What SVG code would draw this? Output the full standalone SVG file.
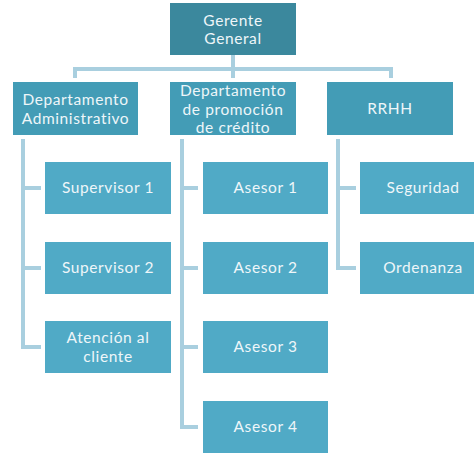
<svg xmlns="http://www.w3.org/2000/svg" width="474" height="454" viewBox="0 0 474 454">
<style>
.top{fill:#3b889d}
.dept{fill:#439cb6}
.box{fill:#50aac6}
text{font-family:Lato,"Open Sans",sans-serif;font-size:15.5px;letter-spacing:0.6px;fill:#eef6f9;text-anchor:middle}
.c{fill:none;stroke:#a9cfdf;stroke-width:4}
</style>
<rect width="474" height="454" fill="#fff"/>
<g id="connectors">
<path class="c" d="M233 55V78M75 78V69H391V78"/>
<path class="c" d="M23 139V347H41M23 188H41M23 268H41"/>
<path class="c" d="M182 139V427H198M182 188H198M182 268H198M182 347H198"/>
<path class="c" d="M338 139V268H356M338 188H356"/>
</g>
<g id="gerente"><rect class="top" x="170" y="3" width="126" height="52"/><text x="233" y="25.5">Gerente</text><text x="233" y="44">General</text></g>
<g id="dept-admin"><rect class="dept" x="13" y="82" width="125" height="53"/><text x="75.5" y="105">Departamento</text><text x="75.5" y="123.5">Administrativo</text></g>
<g id="dept-promo"><rect class="dept" x="170" y="82" width="126" height="53"/><text x="233" y="96">Departamento</text><text x="233" y="114.5">de promoción</text><text x="233" y="133">de crédito</text></g>
<g id="rrhh"><rect class="dept" x="327" y="82" width="126" height="53"/><text x="390" y="114">RRHH</text></g>
<g id="sup1"><rect class="box" x="45" y="162" width="126" height="52"/><text x="108" y="193">Supervisor 1</text></g>
<g id="sup2"><rect class="box" x="45" y="242" width="126" height="52"/><text x="108" y="273">Supervisor 2</text></g>
<g id="atencion"><rect class="box" x="45" y="321" width="126" height="52"/><text x="108" y="343">Atención al</text><text x="108" y="361.5">cliente</text></g>
<g id="ases1"><rect class="box" x="203" y="162" width="125" height="52"/><text x="265.5" y="193">Asesor 1</text></g>
<g id="ases2"><rect class="box" x="203" y="242" width="125" height="52"/><text x="265.5" y="273">Asesor 2</text></g>
<g id="ases3"><rect class="box" x="203" y="321" width="125" height="52"/><text x="265.5" y="352">Asesor 3</text></g>
<g id="ases4"><rect class="box" x="203" y="401" width="125" height="52"/><text x="265.5" y="432">Asesor 4</text></g>
<g id="seguridad"><rect class="box" x="360" y="162" width="126" height="52"/><text x="423" y="193">Seguridad</text></g>
<g id="ordenanza"><rect class="box" x="360" y="242" width="126" height="52"/><text x="423" y="273">Ordenanza</text></g>
</svg>
